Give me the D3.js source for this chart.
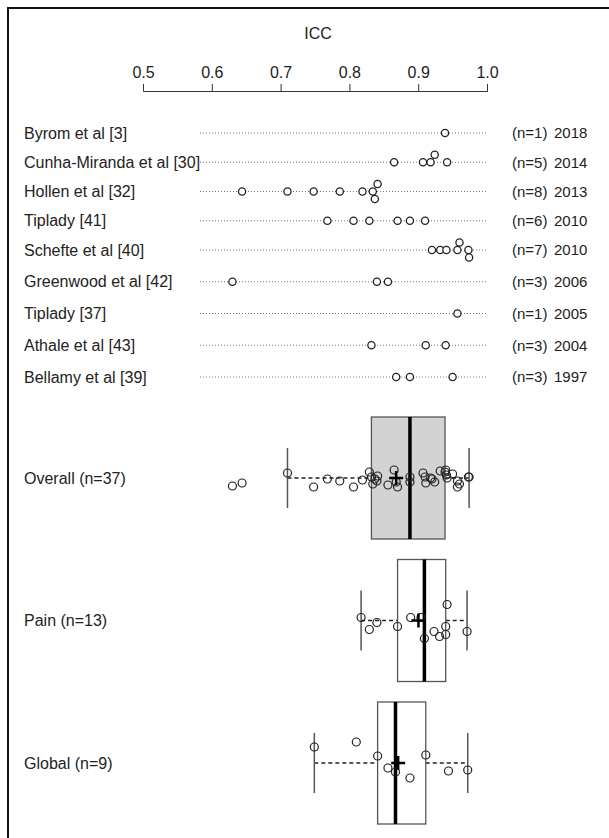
<!DOCTYPE html>
<html>
<head>
<meta charset="utf-8">
<script src="https://cdn.jsdelivr.net/npm/d3@7"></script>
<style>
  body { margin: 0; background: #fff; }
  text { font-family: "Liberation Sans", Arial, sans-serif; fill: #222; }
</style>
</head>
<body>
<div id="chart"></div>
<script>
// Study level data
var studies = ["Byrom et al [3]", "Cunha-Miranda et al [30]", "Hollen et al [32]", "Tiplady [41]",
  "Schefte et al [40]", "Greenwood et al [42]", "Tiplady [37]", "Athale et al [43]", "Bellamy et al [39]"];
var years = [2018, 2014, 2013, 2010, 2010, 2006, 2005, 2004, 1997];
var studyIcc = [
  [0.939],
  [0.865, 0.907, 0.918, 0.924, 0.942],
  [0.644, 0.710, 0.748, 0.786, 0.819, 0.834, 0.841, 0.837],
  [0.768, 0.806, 0.829, 0.870, 0.888, 0.910],
  [0.920, 0.932, 0.941, 0.957, 0.960, 0.973, 0.974],
  [0.630, 0.840, 0.856],
  [0.957],
  [0.832, 0.911, 0.940],
  [0.868, 0.888, 0.950]
];
// stacking lane of overlapping points (1 = above, -1 = below)
var studyLane = [
  [0],
  [0, 0, 0, 1, 0],
  [0, 0, 0, 0, 0, 0, 1, -1],
  [0, 0, 0, 0, 0, 0],
  [0, 0, 0, 0, 1, 0, -1],
  [0, 0, 0],
  [0],
  [0, 0, 0],
  [0, 0, 0]
];

// Grouped summaries
var groups = ["Overall", "Pain", "Global"];
var overallIcc = studyIcc.flat().sort(d3.ascending);
var overallJitter = [0.32, 0.2, -0.2, 0.36, 0.04, 0.12, 0.36, 0.08, -0.24, -0.04, 0.24, 0.04, 0.12,
  -0.08, 0.28, -0.32, 0.16, 0.36, -0.04, 0.16, -0.2, -0.04, 0.2, 0, 0.04, 0.16, -0.28, -0.24,
  -0.32, -0.12, 0, -0.16, 0.12, 0.36, 0.24, -0.04, -0.04];
var painIcc = [0.817, 0.829, 0.840, 0.870, 0.889, 0.904, 0.909, 0.923, 0.931, 0.940, 0.940, 0.942, 0.971];
var painJitter = [-0.12, 0.36, 0.08, 0.24, -0.12, -0.12, 0.72, 0.44, 0.64, 0.56, 0.24, -0.64, 0.44];
var globalIcc = [0.749, 0.810, 0.841, 0.856, 0.867, 0.888, 0.911, 0.944, 0.972];
var globalJitter = [-0.64, -0.84, -0.28, 0.2, 0.36, 0.6, -0.32, 0.32, 0.28];

var xTicks = [0.5, 0.6, 0.7, 0.8, 0.9, 1.0];

var W = 609, H = 838;
var svg = d3.select("#chart").append("svg")
    .attr("width", W)
    .attr("height", H);

// Frame (right and bottom edges fall outside the picture)
svg.append("rect")
    .attr("x", 8).attr("y", 8)
    .attr("width", 700).attr("height", 900)
    .attr("fill", "none")
    .attr("stroke", "#111")
    .attr("stroke-width", 2);

var x = d3.scaleLinear().domain([0.5, 1.0]).range([143, 487]);
var yStudy = d3.scaleLinear().domain([0, 4, 8]).range([133, 250, 377]);
var yGroup = d3.scaleLinear().domain([0, 2]).range([478, 763]);
var jit = d3.scaleLinear().domain([-1, 1]).range([-25, 25]);
var lane = 7.5;

// Top axis
var axis = svg.append("g")
    .attr("transform", "translate(0,91)")
    .call(d3.axisTop(x).tickValues(xTicks).tickFormat(d3.format(".1f")).tickSize(7).tickPadding(6));
axis.selectAll("path, line").attr("stroke", "#333");
axis.selectAll("text").style("font-size", "16px").attr("fill", "#222")
    .style("font-family", "'Liberation Sans', Arial, sans-serif");

svg.append("text")
    .attr("x", 318).attr("y", 39)
    .attr("text-anchor", "middle")
    .style("font-size", "16px")
    .text("ICC");

// Study rows
var rows = svg.selectAll(".study")
    .data(studies)
    .enter().append("g")
    .attr("class", "study");

rows.append("line")
    .attr("x1", 200).attr("x2", 486)
    .attr("y1", function(d, i) { return yStudy(i); })
    .attr("y2", function(d, i) { return yStudy(i); })
    .attr("stroke", "#777")
    .attr("stroke-dasharray", "1,2");

rows.append("text")
    .attr("x", 24)
    .attr("y", function(d, i) { return yStudy(i); })
    .attr("dy", "0.35em")
    .style("font-size", "16px")
    .text(function(d) { return d; });

rows.append("text")
    .attr("x", 512)
    .attr("y", function(d, i) { return yStudy(i); })
    .attr("dy", "0.35em")
    .style("font-size", "15px")
    .text(function(d, i) { return "(n=" + studyIcc[i].length + ")"; });

rows.append("text")
    .attr("x", 554)
    .attr("y", function(d, i) { return yStudy(i); })
    .attr("dy", "0.35em")
    .style("font-size", "15px")
    .text(function(d, i) { return years[i]; });

studyIcc.forEach(function(vals, i) {
    svg.selectAll(null)
        .data(vals)
        .enter().append("circle")
        .attr("cx", function(d) { return x(d); })
        .attr("cy", function(d, j) { return yStudy(i) - studyLane[i][j] * lane; })
        .attr("r", 3.6)
        .attr("fill", "#fff")
        .attr("stroke", "#222")
        .attr("stroke-width", 1.3);
});

// Box plots
function drawBox(vals, jitter, gi, fill, label) {
    var s = vals.slice().sort(d3.ascending);
    var q1 = d3.quantile(s, 0.25), med = d3.quantile(s, 0.5), q3 = d3.quantile(s, 0.75);
    var iqr = q3 - q1;
    var lo = d3.min(s.filter(function(v) { return v >= q1 - 1.5 * iqr; }));
    var hi = d3.max(s.filter(function(v) { return v <= q3 + 1.5 * iqr; }));
    var mean = d3.mean(s);
    var cy = yGroup(gi);
    var g = svg.append("g");

    g.append("text")
        .attr("x", 24).attr("y", cy)
        .attr("dy", "0.35em")
        .style("font-size", "16px")
        .text(label + " (n=" + vals.length + ")");

    // whiskers
    [[lo, q1], [q3, hi]].forEach(function(w) {
        g.append("line")
            .attr("x1", x(w[0])).attr("x2", x(w[1]))
            .attr("y1", cy).attr("y2", cy)
            .attr("stroke", "#222")
            .attr("stroke-width", 1.3)
            .attr("stroke-dasharray", "4,3");
    });
    [lo, hi].forEach(function(v) {
        g.append("line")
            .attr("x1", x(v)).attr("x2", x(v))
            .attr("y1", cy - 30).attr("y2", cy + 30)
            .attr("stroke", "#555")
            .attr("stroke-width", 1.5);
    });

    g.append("rect")
        .attr("x", x(q1)).attr("y", cy - 61)
        .attr("width", x(q3) - x(q1)).attr("height", 122)
        .attr("fill", fill)
        .attr("stroke", "#555")
        .attr("stroke-width", 1.3);

    g.append("line")
        .attr("x1", x(med)).attr("x2", x(med))
        .attr("y1", cy - 61).attr("y2", cy + 61)
        .attr("stroke", "#000")
        .attr("stroke-width", 3.5);

    g.selectAll(null)
        .data(s)
        .enter().append("circle")
        .attr("cx", function(d) { return x(d); })
        .attr("cy", function(d, j) { return cy + jit(jitter[j]); })
        .attr("r", 4)
        .attr("fill", "none")
        .attr("stroke", "#222")
        .attr("stroke-width", 1.2);

    // mean cross
    g.append("line")
        .attr("x1", x(mean) - 7).attr("x2", x(mean) + 7)
        .attr("y1", cy).attr("y2", cy)
        .attr("stroke", "#000").attr("stroke-width", 2.5);
    g.append("line")
        .attr("x1", x(mean)).attr("x2", x(mean))
        .attr("y1", cy - 7).attr("y2", cy + 7)
        .attr("stroke", "#000").attr("stroke-width", 2.5);
}

drawBox(overallIcc, overallJitter, 0, "#d3d3d3", groups[0]);
drawBox(painIcc, painJitter, 1, "#fff", groups[1]);
drawBox(globalIcc, globalJitter, 2, "#fff", groups[2]);
</script>
</body>
</html>
